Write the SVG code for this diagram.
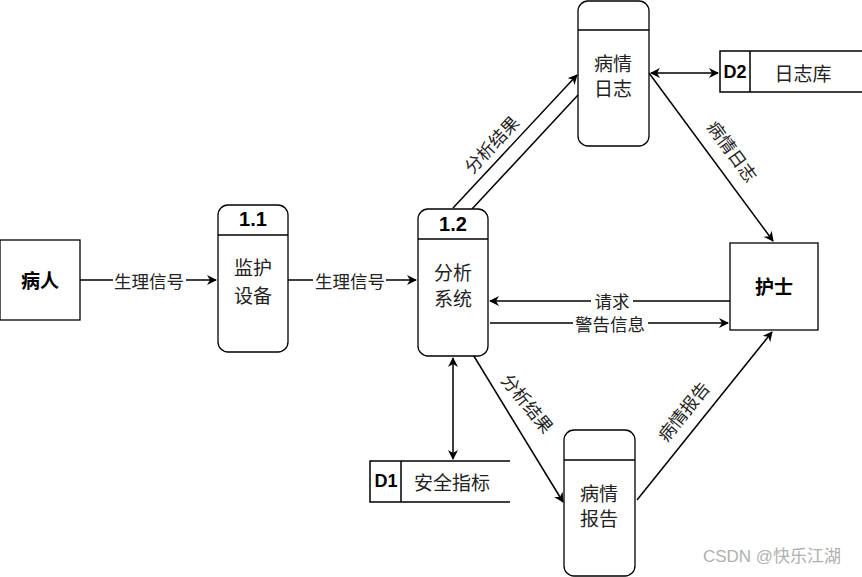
<svg xmlns="http://www.w3.org/2000/svg" width="862" height="577" viewBox="0 0 862 577">
<style>
.box{fill:#fff;stroke:#000;stroke-width:1.3}
.ln{fill:none;stroke:#000;stroke-width:1.5}
.t{font-family:"Noto Sans CJK SC","Liberation Sans",sans-serif;font-size:19px;fill:#222;text-anchor:middle;dominant-baseline:central}
.b{font-family:"Liberation Sans","Noto Sans CJK SC",sans-serif;font-weight:bold;font-size:20px;fill:#000;text-anchor:middle;dominant-baseline:central}
.e{font-family:"Noto Sans CJK SC","Liberation Sans",sans-serif;font-size:17.5px;fill:#222;text-anchor:middle;dominant-baseline:central}
.bg{fill:#fff}
</style>
<defs>
<marker id="a" viewBox="0 0 10 10" refX="9" refY="5" markerWidth="10" markerHeight="10" markerUnits="userSpaceOnUse" orient="auto-start-reverse">
<path d="M0,0 L10,5 L0,10 L3,5 Z" fill="#000"/>
</marker>
</defs>
<rect width="862" height="577" fill="#fff"/>
<g id="connectors">
<line class="ln" x1="80" y1="280" x2="216" y2="280" marker-end="url(#a)"/>
<rect class="bg" x="113" y="269" width="73" height="22"/>
<text class="e" x="149" y="280">生理信号</text>
<line class="ln" x1="288" y1="280" x2="416" y2="280" marker-end="url(#a)"/>
<rect class="bg" x="313" y="269" width="73" height="22"/>
<text class="e" x="350" y="280">生理信号</text>
<line class="ln" x1="453" y1="208" x2="577" y2="75" marker-end="url(#a)"/>
<line class="ln" x1="472" y1="209" x2="578" y2="95"/>
<text class="e" transform="translate(491,144) rotate(-47)">分析结果</text>
<line class="ln" x1="651" y1="73" x2="718" y2="73" marker-start="url(#a)" marker-end="url(#a)"/>
<line class="ln" x1="649" y1="73" x2="773" y2="241" marker-end="url(#a)"/>
<text class="e" transform="translate(733,151) rotate(54)">病情日志</text>
<line class="ln" x1="730" y1="301" x2="490" y2="301" marker-end="url(#a)"/>
<rect class="bg" x="591" y="291" width="42" height="20"/>
<text class="e" x="612" y="300">请求</text>
<line class="ln" x1="490" y1="323" x2="728" y2="323" marker-end="url(#a)"/>
<rect class="bg" x="573" y="313" width="75" height="20"/>
<text class="e" x="610" y="323">警告信息</text>
<line class="ln" x1="453" y1="358" x2="453" y2="459" marker-start="url(#a)" marker-end="url(#a)"/>
<line class="ln" x1="472" y1="353" x2="563" y2="502" marker-end="url(#a)"/>
<text class="e" transform="translate(528,403) rotate(51)">分析结果</text>
<line class="ln" x1="637" y1="500" x2="772" y2="332" marker-end="url(#a)"/>
<text class="e" transform="translate(683,411) rotate(-51)">病情报告</text>
</g>
<g id="patient">
<rect class="box" x="0" y="240" width="80" height="80"/>
<text class="b" x="40" y="281" style="font-size:19px">病人</text>
</g>
<g id="p11">
<rect class="box" x="218" y="205" width="70" height="147" rx="10"/>
<line class="ln" x1="218" y1="235" x2="288" y2="235"/>
<text class="b" x="253" y="219">1.1</text>
<text class="t" x="253" y="266">监护</text>
<text class="t" x="253" y="294">设备</text>
</g>
<g id="p12">
<rect class="box" x="418" y="209" width="70" height="147" rx="10"/>
<line class="ln" x1="418" y1="239" x2="488" y2="239"/>
<text class="b" x="453" y="224">1.2</text>
<text class="t" x="453" y="271">分析</text>
<text class="t" x="453" y="297">系统</text>
</g>
<g id="log">
<rect class="box" x="578" y="1" width="71" height="145" rx="10"/>
<line class="ln" x1="578" y1="30" x2="649" y2="30"/>
<text class="t" x="613" y="62">病情</text>
<text class="t" x="613" y="87">日志</text>
</g>
<g id="d2">
<path class="ln" d="M862,51 H720 V92 H862"/>
<line class="ln" x1="750" y1="51" x2="750" y2="92"/>
<text class="b" x="735" y="72" style="font-size:18px">D2</text>
<text class="t" x="803" y="72">日志库</text>
</g>
<g id="nurse">
<rect class="box" x="730" y="243" width="88" height="87"/>
<text class="b" x="774" y="287" style="font-size:19px">护士</text>
</g>
<g id="d1">
<path class="ln" d="M510,461 H370 V502 H510"/>
<line class="ln" x1="401" y1="461" x2="401" y2="502"/>
<text class="b" x="386" y="481" style="font-size:18px">D1</text>
<text class="t" x="452" y="481">安全指标</text>
</g>
<g id="report">
<rect class="box" x="564" y="430" width="71" height="146" rx="10"/>
<line class="ln" x1="564" y1="460" x2="635" y2="460"/>
<text class="t" x="599" y="492">病情</text>
<text class="t" x="599" y="517">报告</text>
</g>
<text x="772" y="556" style="font-family:'Liberation Sans','Noto Sans CJK SC',sans-serif;font-size:17px;fill:#b0b0b0;text-anchor:middle;dominant-baseline:central">CSDN @快乐江湖</text>
</svg>
